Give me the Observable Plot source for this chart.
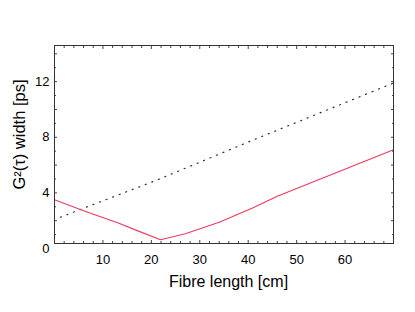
<!DOCTYPE html>
<html><head><meta charset="utf-8">
<script src="https://cdn.jsdelivr.net/npm/d3@7"></script>
<script src="https://cdn.jsdelivr.net/npm/@observablehq/plot@0.6"></script>
<style>body{margin:0;background:#fff}</style>
</head><body><div id="chart"></div>
<script>
// red curve
const fibreLength = [0, 6.3, 13.3, 16.7, 21.9, 27.0, 34.0, 40.8, 46.0, 70.0];
const redWidth    = [3.5, 2.68, 1.82, 1.34, 0.63, 1.06, 1.89, 2.9, 3.75, 7.1];
// dotted curve
const dotLength = [1.2, 21, 41, 70];
const dotWidth  = [2.25, 4.9, 7.8, 11.9];
// ticks
const xTickLabels = [10, 20, 30, 40, 50, 60];
const yTickLabels = [0, 4, 8, 12];
const xMinorTicks = [2,4,6,8,12,14,16,18,22,24,26,28,32,34,36,38,42,44,46,48,52,54,56,58,62,64,66,68];
const xMajorTicks = [10,20,30,40,50,60];
const yMinorTicks = [1,3,5,7,9,11,13];
const yMajorTicks = [2,4,6,8,10,12,14];

const red = fibreLength.map((x, i) => ({x, y: redWidth[i]}));
const dots = dotLength.map((x, i) => ({x, y: dotWidth[i]}));

const font = "'Liberation Sans', Arial, Helvetica, sans-serif";
const plot = Plot.plot({
  width: 415, height: 312,
  marginLeft: 54, marginRight: 22, marginTop: 45, marginBottom: 69,
  style: {fontFamily: font, fontSize: "13px", color: "#000", background: "#fff"},
  x: {domain: [0, 70]},
  y: {domain: [0.36, 14.6]},
  marks: [
    Plot.line(dots, {x: "x", y: "y", stroke: "#333", strokeWidth: 1.2, strokeDasharray: "1.1,5.9"}),
    Plot.line(red, {x: "x", y: "y", stroke: "#ee3a5c", strokeWidth: 1.1}),
    // inward ticks
    Plot.axisX({anchor: "bottom", ticks: xMinorTicks, tickSize: -2, text: null, label: null, stroke: "#444"}),
    Plot.axisX({anchor: "bottom", ticks: xMajorTicks, tickSize: -3, text: null, label: null, stroke: "#444"}),
    Plot.axisX({anchor: "top", ticks: xMinorTicks, tickSize: -2, text: null, label: null, stroke: "#444"}),
    Plot.axisX({anchor: "top", ticks: xMajorTicks, tickSize: -3, text: null, label: null, stroke: "#444"}),
    Plot.axisY({anchor: "left", ticks: yMinorTicks, tickSize: -2, text: null, label: null, stroke: "#444"}),
    Plot.axisY({anchor: "left", ticks: yMajorTicks, tickSize: -3, text: null, label: null, stroke: "#444"}),
    Plot.axisY({anchor: "right", ticks: yMinorTicks, tickSize: -2, text: null, label: null, stroke: "#444"}),
    Plot.axisY({anchor: "right", ticks: yMajorTicks, tickSize: -3, text: null, label: null, stroke: "#444"}),
    // labels
    Plot.axisX({anchor: "bottom", ticks: xTickLabels, tickSize: 0, tickPadding: 11, label: null, fontSize: 13}),
    Plot.text(yTickLabels, {x: 0, y: d => d, text: d => String(d), textAnchor: "end", dx: -5, fontSize: 13, clip: false}),
    Plot.frame({stroke: "#333", strokeWidth: 1}),
    Plot.text(["Fibre length [cm]"], {frameAnchor: "bottom", dx: 4.5, dy: 38.5, fontSize: 16, lineAnchor: "middle"}),
    Plot.text(["G²(τ) width [ps]"], {frameAnchor: "left", textAnchor: "middle", dx: -34.5, dy: -10, rotate: -90, fontSize: 16.5, lineAnchor: "middle"})
  ]
});
document.getElementById("chart").appendChild(plot);
</script>
</body></html>
